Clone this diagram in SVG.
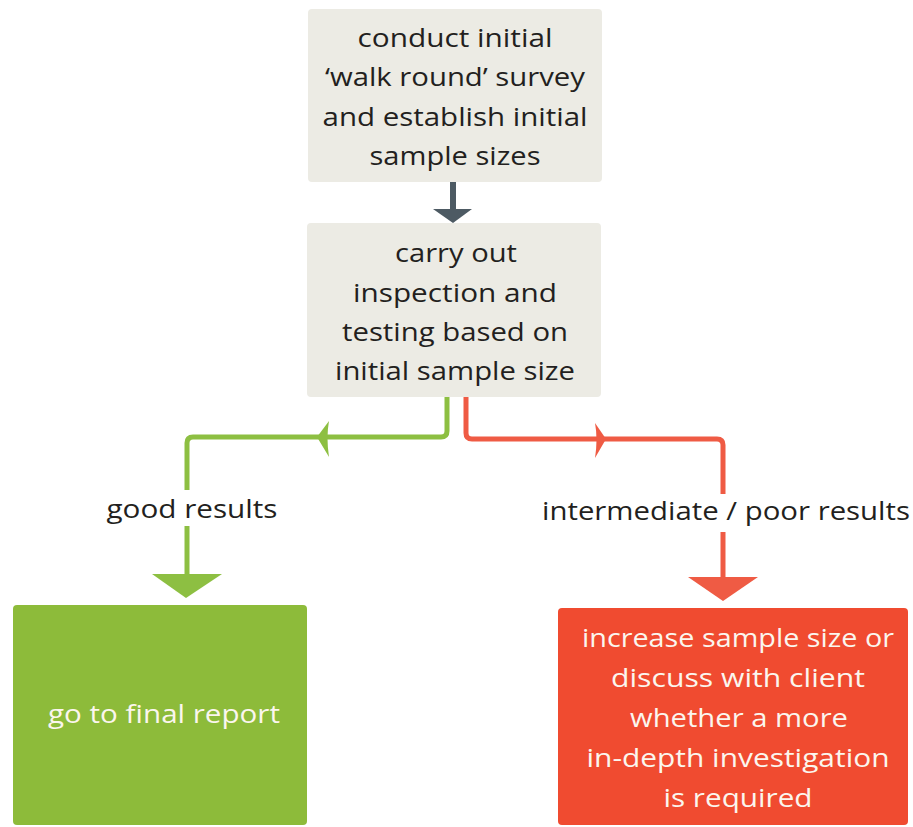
<svg xmlns="http://www.w3.org/2000/svg" width="913" height="827" viewBox="0 0 913 827">
<style>
.t{font-family:"Open Sans","Noto Sans","Liberation Sans",sans-serif;font-size:26px;text-anchor:middle}
.dk{fill:#231f20}
.wh{fill:#fbf6ee}
.grey{fill:#ecebe4}
.gl{fill:none;stroke:#8dbf42;stroke-width:5;stroke-linejoin:round}
.rl{fill:none;stroke:#ef5b44;stroke-width:5;stroke-linejoin:round}
</style>
<rect width="913" height="827" fill="#ffffff"/>
<g id="connectors">
  <line x1="453" y1="181" x2="453" y2="212" stroke="#4d5a63" stroke-width="6"/>
  <polygon points="433,209 472,209 453,223" fill="#4d5a63"/>
  <path class="gl" d="M447,396 V431 Q447,437 441,437 H193 Q187,437 187,443 V490"/>
  <path class="gl" d="M187,526 V578"/>
  <path d="M317,437 L329,421 Q326,437 329,457 Z" fill="#8dbf42"/>
  <polygon points="152,574 222,574 186,598" fill="#8dbf42"/>
  <path class="rl" d="M466,396 V433 Q466,439 472,439 H717 Q723,439 723,445 V494"/>
  <path class="rl" d="M723,532 V580"/>
  <path d="M606,439 L595,423 Q598,439 595,458 Z" fill="#ef5b44"/>
  <polygon points="688,577 758,577 723,601" fill="#ef5b44"/>
</g>
<g id="survey">
  <rect class="grey" x="308" y="9" width="294" height="173" rx="4"/>
  <text class="t dk" x="455" y="47" textLength="195" lengthAdjust="spacingAndGlyphs">conduct initial</text>
  <text class="t dk" x="455" y="86" textLength="260" lengthAdjust="spacingAndGlyphs">‘walk round’ survey</text>
  <text class="t dk" x="455" y="126" textLength="265" lengthAdjust="spacingAndGlyphs">and establish initial</text>
  <text class="t dk" x="455" y="165" textLength="171" lengthAdjust="spacingAndGlyphs">sample sizes</text>
</g>
<g id="inspection">
  <rect class="grey" x="307" y="223" width="294" height="174" rx="4"/>
  <text class="t dk" x="456" y="262" textLength="122" lengthAdjust="spacingAndGlyphs">carry out</text>
  <text class="t dk" x="455" y="302" textLength="204" lengthAdjust="spacingAndGlyphs">inspection and</text>
  <text class="t dk" x="455" y="341" textLength="226" lengthAdjust="spacingAndGlyphs">testing based on</text>
  <text class="t dk" x="455" y="380" textLength="240" lengthAdjust="spacingAndGlyphs">initial sample size</text>
</g>
<g id="label-good">
  <text class="t dk" x="192" y="518" textLength="171" lengthAdjust="spacingAndGlyphs">good results</text>
</g>
<g id="label-poor">
  <text class="t dk" x="726" y="520" textLength="368" lengthAdjust="spacingAndGlyphs">intermediate / poor results</text>
</g>
<g id="final-report">
  <rect x="13" y="605" width="294" height="220" rx="4" fill="#8dbb3a"/>
  <text class="t wh" x="164" y="723" textLength="232" lengthAdjust="spacingAndGlyphs">go to final report</text>
</g>
<g id="increase">
  <rect x="558" y="608" width="350" height="217" rx="4" fill="#f04b30"/>
  <text class="t wh" x="738" y="647" textLength="312" lengthAdjust="spacingAndGlyphs">increase sample size or</text>
  <text class="t wh" x="738" y="687" textLength="254" lengthAdjust="spacingAndGlyphs">discuss with client</text>
  <text class="t wh" x="739" y="727" textLength="218" lengthAdjust="spacingAndGlyphs">whether a more</text>
  <text class="t wh" x="738" y="767" textLength="303" lengthAdjust="spacingAndGlyphs">in-depth investigation</text>
  <text class="t wh" x="738" y="807" textLength="149" lengthAdjust="spacingAndGlyphs">is required</text>
</g>
</svg>
